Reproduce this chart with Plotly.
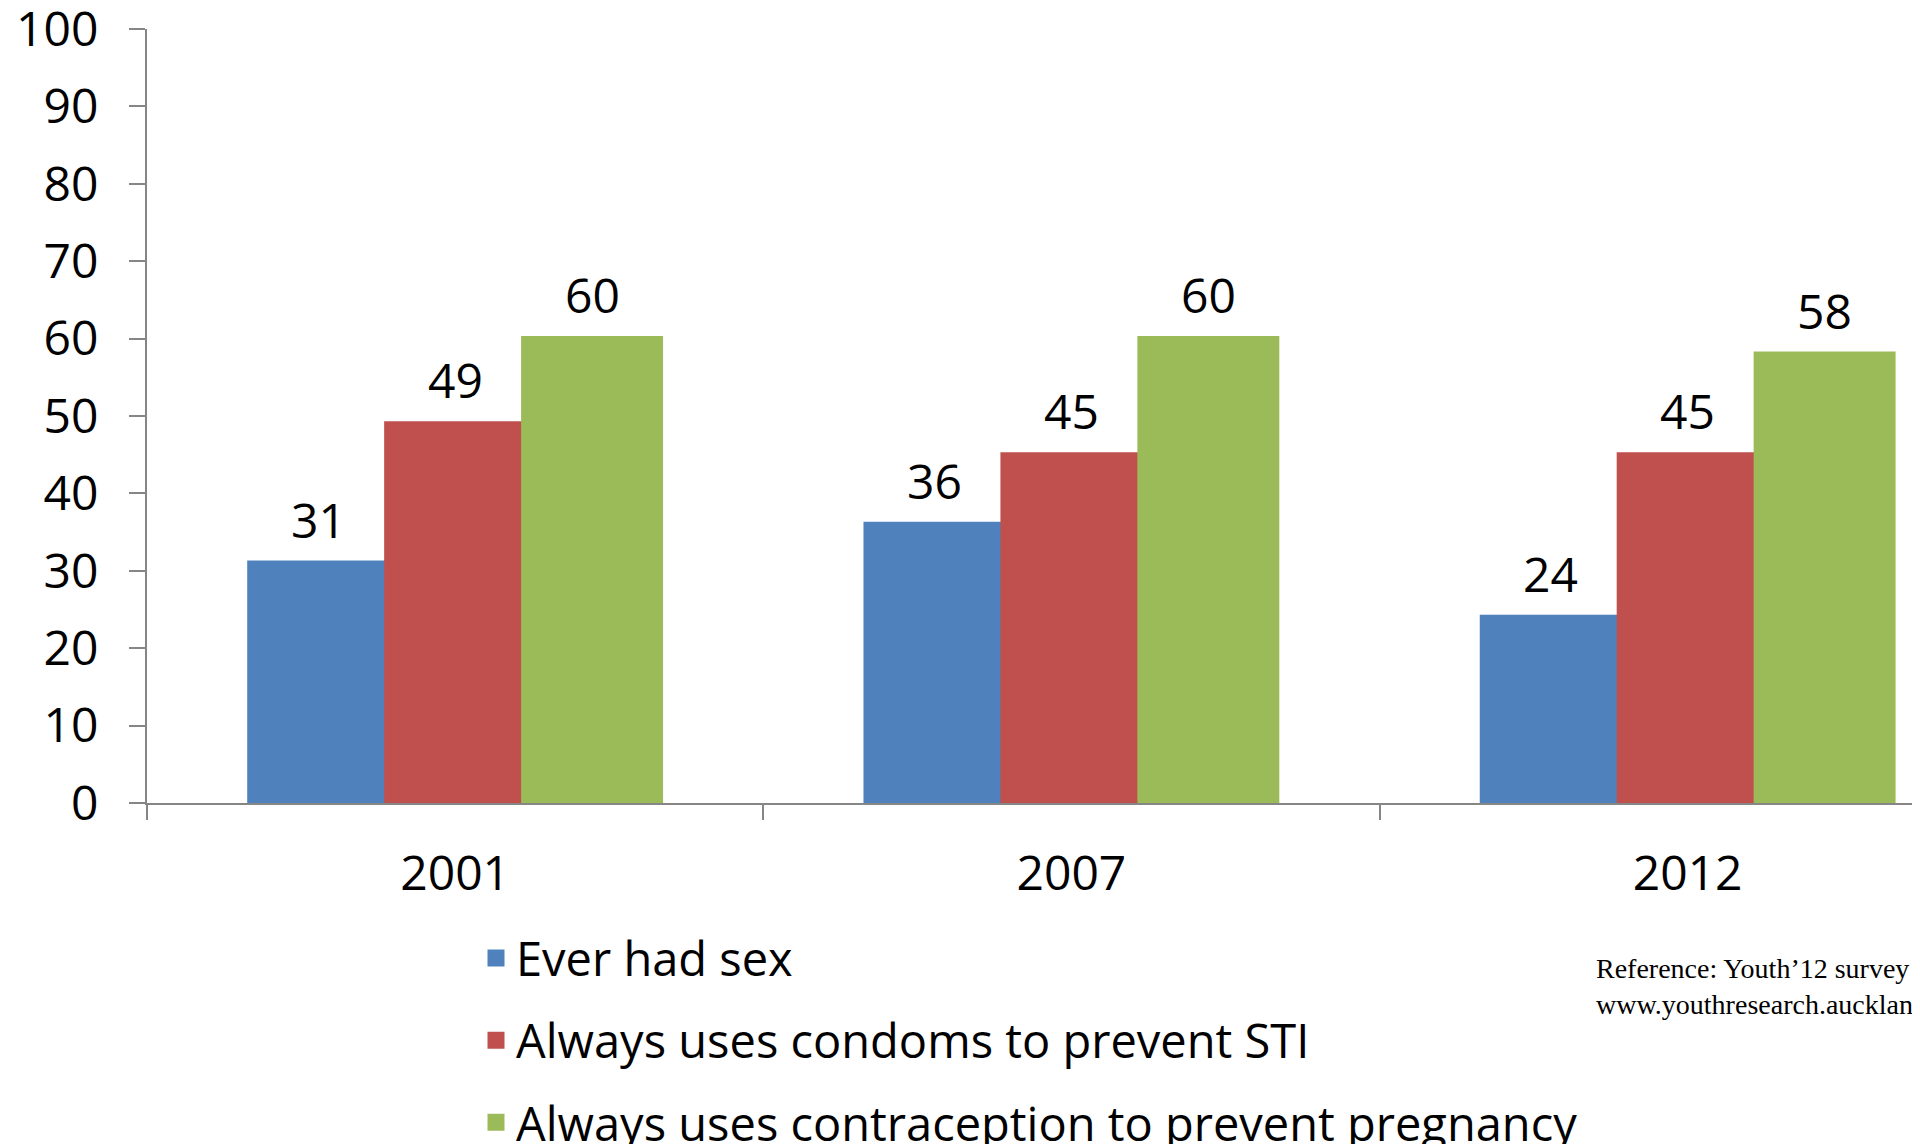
import plotly.graph_objects as go

years = ["2001", "2007", "2012"]
series_names = [
    "Ever had sex",
    "Always uses condoms to prevent STI",
    "Always uses contraception to prevent pregnancy",
]
ever_had_sex = [31, 36, 24]
condoms_sti = [49, 45, 45]
contraception = [60, 60, 58]
series_values = [ever_had_sex, condoms_sti, contraception]
colors = ["#4F81BD", "#C0504D", "#9BBB59"]
y_ticks = list(range(0, 101, 10))
source_text = "Reference: Youth’12 survey<br>www.youthresearch.auckland.ac.nz"

FONT = "Open Sans"
FS = 48
BARGAP = 1 / 3
n_series = len(series_values)
bar_w = (1 - BARGAP) / n_series

# page body has an 8px default margin; compensate so the plot sits where the reference does
OFF = 8
PAGE_W, PAGE_H = 1920, 1144
W, H = PAGE_W - OFF, PAGE_H - OFF
PLOT_L, PLOT_T, PLOT_B = 147, 29, 803          # page pixel positions
ML, MT, MB, MR = PLOT_L - OFF, PLOT_T - OFF, PAGE_H - PLOT_B, 0
ph = H - MT - MB
pw = W - ML - MR

def px_x(px):
    return (px - PLOT_L) / pw

def px_y(py):
    return (PLOT_B - py) / ph

fig = go.Figure()
for k, (name, vals, col) in enumerate(zip(series_names, series_values, colors)):
    fig.add_trace(go.Bar(
        x=years, y=vals, name=name,
        marker=dict(color=col, line=dict(color=col, width=5)),
        legendgroup=f"g{k}",
    ))

annotations = []
for k, vals in enumerate(series_values):
    offset = (k - (n_series - 1) / 2) * bar_w
    for i, v in enumerate(vals):
        annotations.append(dict(
            x=i + offset, y=v, xref="x", yref="y", text=str(v),
            showarrow=False, yanchor="middle", yshift=44,
            font=dict(family=FONT, size=FS, color="black"),
        ))

annotations.append(dict(
    x=px_x(1594), y=px_y(987), xref="paper", yref="paper",
    text=source_text,
    showarrow=False, align="left", xanchor="left", yanchor="middle",
    font=dict(family="Liberation Serif", size=28, color="black"),
))

fig.update_layout(
    width=W, height=H,
    margin=dict(l=ML, r=MR, t=MT, b=MB, pad=0, autoexpand=False),
    plot_bgcolor="white", paper_bgcolor="white",
    barmode="group", bargap=BARGAP, bargroupgap=0,
    font=dict(family=FONT, size=FS, color="black"),
    showlegend=True,
    legend=dict(
        x=px_x(476), xanchor="left",
        y=px_y(921), yanchor="top",
        orientation="v", tracegroupgap=18,
        font=dict(family=FONT, size=47, color="black"),
        bgcolor="rgba(0,0,0,0)", itemwidth=30,
    ),
    annotations=annotations,
)
fig.update_xaxes(
    type="category", range=[-0.5, 2.377],
    showline=True, linecolor="#868686", linewidth=2,
    ticks="outside", tickson="boundaries", ticklen=15, tickcolor="#868686", tickwidth=2,
    showgrid=False, zeroline=False,
    tickfont=dict(family=FONT, size=FS, color="black"),
    ticklabelstandoff=27,
)
fig.update_yaxes(
    range=[0, 100], tickvals=y_ticks,
    showline=True, linecolor="#868686", linewidth=2,
    ticks="outside", ticklen=16, tickcolor="#868686", tickwidth=2,
    showgrid=False, zeroline=False,
    tickfont=dict(family=FONT, size=FS, color="black"),
    ticklabelstandoff=21, ticklabeloverflow="allow",
)

fig.write_html("out.html")
